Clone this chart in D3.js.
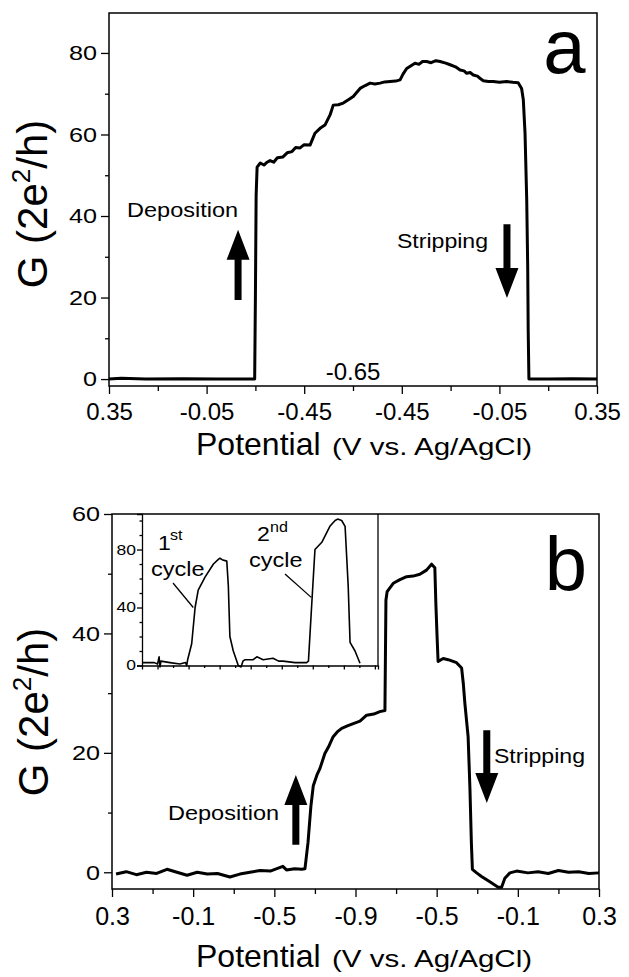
<!DOCTYPE html>
<html lang="en">
<head>
<meta charset="UTF-8">
<title>G vs potential</title>
<script src="https://cdn.jsdelivr.net/npm/d3@7"></script>
<style>
    body { margin:0; background:#fff; }
    svg { display:block; font-family:"Liberation Sans", Arial, sans-serif; }
    .axis path, .axis line { stroke:#000; stroke-width:1.3px; }
    .axis text { fill:#000; font-family:"Liberation Sans", Arial, sans-serif; }
</style>
</head>
<body>
<div id="chart"></div>
<script>
// ---- data: panel a (sweep position in V from start, G in 2e^2/h)
var sweepA = [0,0.05,0.15,0.3,0.45,0.597,0.600,0.603,0.607,0.62,0.635,0.648,0.66,0.675,0.69,0.713,0.73,0.75,0.765,0.783,0.80,0.824,0.835,0.844,0.865,0.885,0.906,0.919,0.94,0.96,0.981,1.001,1.029,1.05,1.07,1.09,1.111,1.13,1.152,1.175,1.193,1.205,1.22,1.254,1.27,1.285,1.302,1.32,1.34,1.357,1.38,1.398,1.42,1.439,1.455,1.466,1.48,1.493,1.51,1.52,1.534,1.555,1.575,1.60,1.63,1.655,1.677,1.691,1.698,1.705,1.712,1.716,1.718,1.721,1.80,1.90,2.0];
var gA = [0,0.2,0,0.1,0,0,20,45,52,53,52.5,53.2,53.6,53.2,54.3,54.5,55.5,55.8,56.8,56.7,57.5,57.4,59,60.3,61.5,62.3,64.8,67.2,67.3,67.7,68.5,69.3,71.3,72.0,72.6,72.4,72.6,72.9,73.0,73.1,73.4,74.8,76.2,77.5,77.2,77.9,77.9,77.6,78.1,77.9,77.5,77.1,76.6,75.8,75.6,75.0,75.2,74.6,74.3,73.8,73.2,73.0,73.0,72.8,73.0,72.8,72.7,71.3,68.5,60.4,43.9,27.5,12,0,0,0.1,0];
var ticksA = [0,0.4,0.8,1.2,1.6,2.0];
var tickLabelsA = ["0.35","-0.05","-0.45","-0.45","-0.05","0.35"];
var vertexLabelA = "-0.65";

// ---- data: panel b
var sweepB = [0.02,0.07,0.12,0.17,0.22,0.271,0.32,0.37,0.42,0.47,0.52,0.581,0.63,0.68,0.73,0.78,0.842,0.86,0.90,0.935,0.951,0.966,0.980,0.992,1.010,1.025,1.049,1.07,1.09,1.11,1.132,1.16,1.189,1.222,1.255,1.29,1.32,1.345,1.35,1.356,1.386,1.419,1.452,1.484,1.517,1.55,1.575,1.591,1.596,1.602,1.607,1.632,1.657,1.698,1.723,1.731,1.739,1.755,1.764,1.771,1.776,1.797,1.821,1.862,1.903,1.92,1.936,1.961,1.994,2.05,2.10,2.15,2.20,2.25,2.30,2.35,2.4];
var gB = [-0.3,0.1,-0.4,0,-0.2,0.5,0,-0.5,0,-0.3,-0.2,-0.8,-0.3,0,0.3,0.2,1.0,0.4,0.6,0.5,0.6,5,11,14.5,16.3,17.4,19.9,21.2,22.7,23.5,24.1,24.5,24.9,25.3,26.3,26.5,26.9,27.1,45.6,47.0,48.4,49.0,49.5,49.6,49.9,50.6,51.6,51.0,45,39.5,35.3,35.8,35.6,35.1,34.2,31.7,28.3,22.7,14,5,0.5,-0.1,-0.7,-1.6,-2.5,-2.5,-1.0,-0.1,0.2,-0.1,0.1,-0.2,0.3,0,0.1,-0.2,-0.1];
var ticksB = [0,0.4,0.8,1.2,1.6,2.0,2.4];
var tickLabelsB = ["0.3","-0.1","-0.5","-0.9","-0.5","-0.1","0.3"];

// ---- data: inset (two cycles, arbitrary sweep units)
var sweepI = [-0.47,-0.1,0.0,0.05,0.08,0.11,0.4,0.72,0.90,0.94,0.97,1.10,1.21,1.31,1.53,1.80,1.95,2.01,2.08,2.23,2.28,2.33,2.44,2.60,2.69,2.75,2.82,3.08,3.2,3.4,3.72,3.9,4.04,4.43,4.80,4.86,4.96,5.07,5.29,5.55,5.72,5.80,5.93,6.04,6.14,6.20,6.36,6.52];
var gI = [2,2,1,6,-1,3,2,1,2,0,4,15,40,52,61,70,73,74,73,72,55,20,10,0,-1,3,4,4,6,4,5,3,3,2,2,3,40,80,85,96,100,101,100,96,55,16,10,1.5];

var W = 629, H = 977;
var svg = d3.select("#chart").append("svg").attr("width", W).attr("height", H);

// text with horizontal stretch (the figure's lettering is wider than Arial)
function label(g, x, y, str, size, sx, anchor) {
    return g.append("text")
        .attr("transform", "translate(" + x + "," + y + ") scale(" + sx + ",1)")
        .attr("font-size", size)
        .attr("text-anchor", anchor || "start")
        .text(str);
}

function arrow(g, x, yTail, yTip) {
    var dir = yTip < yTail ? -1 : 1;   // -1 up, 1 down
    var headLen = 30, hw = 11.5, sw = 3.5;
    var yBase = yTip - dir * headLen;
    var p = d3.path();
    p.moveTo(x - sw, yTail); p.lineTo(x - sw, yBase); p.lineTo(x - hw, yBase);
    p.lineTo(x, yTip); p.lineTo(x + hw, yBase); p.lineTo(x + sw, yBase);
    p.lineTo(x + sw, yTail); p.closePath();
    g.append("path").attr("d", p.toString()).attr("fill", "#000");
}

function yLabel(g, x, y) {
    var t = g.append("text")
        .attr("transform", "translate(" + x + "," + y + ") rotate(-90)")
        .attr("text-anchor", "middle").attr("font-size", 42);
    t.append("tspan").text("G (2e");
    t.append("tspan").attr("font-size", 26).attr("dy", -17).text("2");
    t.append("tspan").attr("dy", 17).text("/h)");
}

function xTitle(g, y) {
    g.append("text").attr("x", 196).attr("y", y).attr("font-size", 32).text("Potential");
    label(g, 332, y, "(V vs. Ag/AgCl)", 24, 1.23);
}

// ================= panel a =================
var xA = d3.scaleLinear().domain([0, 2]).range([109, 597]);
var yA = d3.scaleLinear().domain([-1.7, 89.8]).range([386, 13]);
var gAx = svg.append("g");

gAx.append("g").attr("class", "axis").attr("transform", "translate(0," + yA.range()[0] + ")")
    .call(d3.axisBottom(xA).tickValues(ticksA).tickSize(8).tickPadding(9)
        .tickFormat(function (d, i) { return tickLabelsA[i]; }))
    .call(function (s) { s.select(".domain").remove(); s.selectAll("text").attr("font-size", 24); });
gAx.append("g").attr("class", "axis").attr("transform", "translate(0," + yA.range()[0] + ")")
    .call(d3.axisBottom(xA).tickValues([0.2, 0.6, 1.0, 1.4, 1.8]).tickSize(5).tickFormat(""))
    .call(function (s) { s.select(".domain").remove(); });

gAx.append("g").attr("class", "axis").attr("transform", "translate(" + xA.range()[0] + ",0)")
    .call(d3.axisLeft(yA).tickValues([0, 20, 40, 60, 80]).tickSize(8).tickPadding(4))
    .call(function (s) {
        s.select(".domain").remove();
        s.selectAll("text").attr("font-size", 21).attr("x", -10).attr("transform", "scale(1.2,1)");
    });
gAx.append("g").attr("class", "axis").attr("transform", "translate(" + xA.range()[0] + ",0)")
    .call(d3.axisLeft(yA).tickValues([10, 30, 50, 70]).tickSize(4).tickFormat(""))
    .call(function (s) { s.select(".domain").remove(); });

gAx.append("rect").attr("x", xA.range()[0]).attr("y", yA.range()[1])
    .attr("width", xA.range()[1] - xA.range()[0]).attr("height", yA.range()[0] - yA.range()[1])
    .attr("fill", "none").attr("stroke", "#000").attr("stroke-width", 1.5);

var lineA = d3.line().x(function (d, i) { return xA(sweepA[i]); }).y(function (d) { return yA(d); });
gAx.append("path").datum(gA).attr("d", lineA)
    .attr("fill", "none").attr("stroke", "#000").attr("stroke-width", 3).attr("stroke-linejoin", "round");

gAx.append("text").attr("x", xA(1.0)).attr("y", yA(0) + 1).attr("text-anchor", "middle")
    .attr("font-size", 24).text(vertexLabelA);

label(gAx, xA(0.074), yA(39.8), "Deposition", 21, 1.12);
label(gAx, xA(1.18), yA(32.1), "Stripping", 21, 1.1);
arrow(gAx, xA(0.529), yA(19.4), yA(36.6));
arrow(gAx, xA(1.631), yA(38.0), yA(19.9));
gAx.append("text").attr("x", xA(1.78)).attr("y", yA(75.1)).attr("font-size", 76).text("a");

yLabel(gAx, 47, 204);
xTitle(gAx, 455);

// ================= panel b =================
var xB = d3.scaleLinear().domain([0, 2.4]).range([112, 599]);
var yB = d3.scaleLinear().domain([-2.8, 60]).range([889, 514]);
var gBx = svg.append("g");

gBx.append("g").attr("class", "axis").attr("transform", "translate(0," + yB.range()[0] + ")")
    .call(d3.axisBottom(xB).tickValues(ticksB).tickSize(8).tickPadding(10)
        .tickFormat(function (d, i) { return tickLabelsB[i]; }))
    .call(function (s) { s.select(".domain").remove(); s.selectAll("text").attr("font-size", 25); });
gBx.append("g").attr("class", "axis").attr("transform", "translate(0," + yB.range()[0] + ")")
    .call(d3.axisBottom(xB).tickValues([0.2, 0.6, 1.0, 1.4, 1.8, 2.2]).tickSize(5).tickFormat(""))
    .call(function (s) { s.select(".domain").remove(); });

gBx.append("g").attr("class", "axis").attr("transform", "translate(" + xB.range()[0] + ",0)")
    .call(d3.axisLeft(yB).tickValues([0, 20, 40, 60]).tickSize(8).tickPadding(4))
    .call(function (s) {
        s.select(".domain").remove();
        s.selectAll("text").attr("font-size", 21).attr("x", -10).attr("transform", "scale(1.2,1)");
    });
gBx.append("g").attr("class", "axis").attr("transform", "translate(" + xB.range()[0] + ",0)")
    .call(d3.axisLeft(yB).tickValues([10, 30, 50]).tickSize(4).tickFormat(""))
    .call(function (s) { s.select(".domain").remove(); });

gBx.append("rect").attr("x", xB.range()[0]).attr("y", yB.range()[1])
    .attr("width", xB.range()[1] - xB.range()[0]).attr("height", yB.range()[0] - yB.range()[1])
    .attr("fill", "none").attr("stroke", "#000").attr("stroke-width", 1.5);

var lineB = d3.line().x(function (d, i) { return xB(sweepB[i]); }).y(function (d) { return yB(d); });
gBx.append("path").datum(gB).attr("d", lineB)
    .attr("fill", "none").attr("stroke", "#000").attr("stroke-width", 3).attr("stroke-linejoin", "round");

label(gBx, xB(0.276), yB(8.8), "Deposition", 21, 1.12);
label(gBx, xB(1.882), yB(18.3), "Stripping", 21, 1.1);
arrow(gBx, xB(0.906), yB(4.6), yB(16.3));
arrow(gBx, xB(1.847), yB(23.8), yB(11.6));
gBx.append("text").attr("x", xB(2.133)).attr("y", yB(47.3)).attr("font-size", 76).text("b");

yLabel(gBx, 48, 712);
xTitle(gBx, 967);

// ---- inset
var xI = d3.scaleLinear().domain([-0.5, 7.1]).range([142, 378]);
var yI = d3.scaleLinear().domain([0, 104.5]).range([665.5, 514]);
var gIn = svg.append("g");

gIn.append("g").attr("class", "axis").attr("transform", "translate(0," + yI(0) + ")")
    .call(d3.axisBottom(xI).tickValues(d3.range(0, 7.01, 1)).tickSize(4).tickFormat(""))
    .call(function (s) { s.select(".domain").attr("stroke-width", 1.3); });
gIn.append("g").attr("class", "axis").attr("transform", "translate(0," + yI(0) + ")")
    .call(d3.axisBottom(xI).tickValues(d3.range(0.5, 7, 1)).tickSize(2.5).tickFormat(""))
    .call(function (s) { s.select(".domain").remove(); });

gIn.append("g").attr("class", "axis").attr("transform", "translate(" + xI.range()[0] + ",0)")
    .call(d3.axisLeft(yI).tickValues([0, 40, 80]).tickSize(5).tickPadding(1))
    .call(function (s) {
        s.select(".domain").attr("stroke-width", 1.3);
        s.selectAll("text").attr("font-size", 14).attr("x", -6 / 1.25).attr("transform", "scale(1.25,1)");
    });
gIn.append("g").attr("class", "axis").attr("transform", "translate(" + xI.range()[0] + ",0)")
    .call(d3.axisLeft(yI).tickValues([10, 20, 30, 50, 60, 70, 90, 100]).tickSize(2.5).tickFormat(""))
    .call(function (s) { s.select(".domain").remove(); });
gIn.append("line").attr("x1", xI.range()[1]).attr("x2", xI.range()[1])
    .attr("y1", yI.range()[0]).attr("y2", yI.range()[1]).attr("stroke", "#000").attr("stroke-width", 1.3);

var lineI = d3.line().x(function (d, i) { return xI(sweepI[i]); }).y(function (d) { return yI(d); });
gIn.append("path").datum(gI).attr("d", lineI)
    .attr("fill", "none").attr("stroke", "#000").attr("stroke-width", 1.6).attr("stroke-linejoin", "round");

// cycle labels
label(gIn, 158, 550, "1", 21, 1.1);
label(gIn, 170, 540, "st", 14, 1.15);
label(gIn, 151, 576, "cycle", 21, 1.12);
gIn.append("line").attr("x1", 173).attr("y1", 583).attr("x2", xI(1.15)).attr("y2", yI(40))
    .attr("stroke", "#000").attr("stroke-width", 1.3);
label(gIn, 257, 541, "2", 21, 1.1);
label(gIn, 270, 532, "nd", 14, 1.15);
label(gIn, 249, 567, "cycle", 21, 1.12);
gIn.append("line").attr("x1", 285).attr("y1", 574).attr("x2", xI(4.95)).attr("y2", yI(47))
    .attr("stroke", "#000").attr("stroke-width", 1.3);
</script>
</body>
</html>
